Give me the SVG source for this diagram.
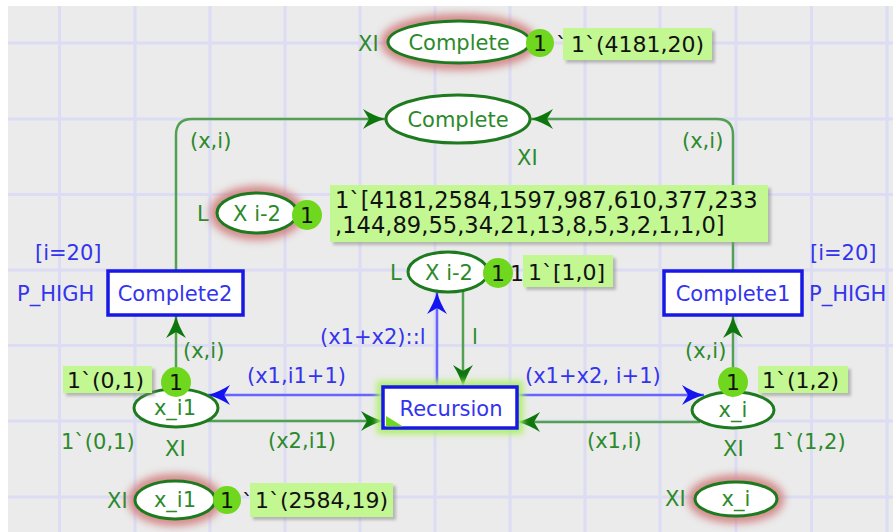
<svg xmlns="http://www.w3.org/2000/svg" width="893" height="532" viewBox="0 0 893 532">
  <style>
    text { font-family: "DejaVu Sans", Verdana, sans-serif; font-size: 21px; }
    .g { fill: #2b8a2b; }
    .b { fill: #3434ee; }
    .k { fill: #111; font-size: 22px; }
    .mid { text-anchor: middle; }
    .place { fill: #fff; stroke: #1e7a1e; stroke-width: 3; }
    .halo { fill: none; stroke: #cf7272; stroke-width: 12; filter: url(#haze); opacity: 0.85; }
    .trans { fill: #fff; stroke: #1818e6; stroke-width: 3.5; }
    .tok { fill: #6fd81e; }
    .box { fill: #c2f792; }
    .shadow { fill: #8a8a8a; opacity: 0.55; filter: url(#soft2); }
    .arcg { fill: none; stroke: #52a052; stroke-width: 2.5; }
    .arcb { fill: none; stroke: #6666ff; stroke-width: 2.5; }
    .grid { stroke: #dcdcf5; stroke-width: 3; }
  </style>
  <defs>
    <filter id="soft" x="-30%" y="-40%" width="160%" height="180%">
      <feGaussianBlur stdDeviation="3"/>
    </filter>
    <filter id="haze" x="-40%" y="-60%" width="180%" height="220%">
      <feGaussianBlur stdDeviation="4"/>
    </filter>
    <filter id="soft2" x="-10%" y="-20%" width="120%" height="140%">
      <feGaussianBlur stdDeviation="1.5"/>
    </filter>
    <marker id="ahg" markerUnits="userSpaceOnUse" viewBox="-24 -11 26 22" refX="0" refY="0" markerWidth="26" markerHeight="22" orient="auto">
      <path d="M0,0 Q-11,-3 -22,-10 L-16,0 L-22,10 Q-11,3 0,0 Z" fill="#0d760d"/>
    </marker>
    <marker id="ahb" markerUnits="userSpaceOnUse" viewBox="-24 -11 26 22" refX="0" refY="0" markerWidth="26" markerHeight="22" orient="auto">
      <path d="M0,0 Q-11,-3 -22,-10 L-16,0 L-22,10 Q-11,3 0,0 Z" fill="#1414f0"/>
    </marker>
  </defs>

  <!-- canvas and grid -->
  <rect x="0" y="0" width="893" height="532" fill="#ffffff"/>
  <rect x="8" y="6" width="885" height="526" fill="#ebebeb"/>
  <g id="grid">
    <line class="grid" x1="59.5" y1="6" x2="59.5" y2="532"/>
    <line class="grid" x1="135" y1="6" x2="135" y2="532"/>
    <line class="grid" x1="210" y1="6" x2="210" y2="532"/>
    <line class="grid" x1="285" y1="6" x2="285" y2="532"/>
    <line class="grid" x1="360" y1="6" x2="360" y2="532"/>
    <line class="grid" x1="435" y1="6" x2="435" y2="532"/>
    <line class="grid" x1="510" y1="6" x2="510" y2="532"/>
    <line class="grid" x1="585" y1="6" x2="585" y2="532"/>
    <line class="grid" x1="660" y1="6" x2="660" y2="532"/>
    <line class="grid" x1="736" y1="6" x2="736" y2="532"/>
    <line class="grid" x1="811.5" y1="6" x2="811.5" y2="532"/>
    <line class="grid" x1="887" y1="6" x2="887" y2="532"/>
    <line class="grid" x1="8" y1="43" x2="893" y2="43"/>
    <line class="grid" x1="8" y1="119" x2="893" y2="119"/>
    <line class="grid" x1="8" y1="194.5" x2="893" y2="194.5"/>
    <line class="grid" x1="8" y1="270" x2="893" y2="270"/>
    <line class="grid" x1="8" y1="345.5" x2="893" y2="345.5"/>
    <line class="grid" x1="8" y1="421" x2="893" y2="421"/>
    <line class="grid" x1="8" y1="497" x2="893" y2="497"/>
  </g>

  <!-- arcs -->
  <g id="connectors">
    <path class="arcg" d="M176,271 L176,135 Q176,119 192,119 L385,119" marker-end="url(#ahg)"/>
    <path class="arcg" d="M733,271 L733,135 Q733,119 717,119 L531,119" marker-end="url(#ahg)"/>
    <path class="arcg" d="M176,390 L176,316" marker-end="url(#ahg)"/>
    <path class="arcg" d="M733,392 L733,316" marker-end="url(#ahg)"/>
    <path class="arcb" d="M383,395 L208,395" marker-end="url(#ahb)"/>
    <path class="arcg" d="M207,421 L383,421" marker-end="url(#ahg)"/>
    <path class="arcb" d="M517,395 L704,395" marker-end="url(#ahb)"/>
    <path class="arcg" d="M700,422 L518,422" marker-end="url(#ahg)"/>
    <path class="arcb" d="M437,387 L437,292" marker-end="url(#ahb)"/>
    <path class="arcg" d="M463,291 L463,387" marker-end="url(#ahg)"/>
    <text class="g" x="190" y="148">(x,i)</text>
    <text class="g" x="682" y="148">(x,i)</text>
    <text class="g" x="183" y="358">(x,i)</text>
    <text class="g" x="685" y="358">(x,i)</text>
    <text class="b" x="247" y="383">(x1,i1+1)</text>
    <text class="g" x="268" y="448">(x2,i1)</text>
    <text class="b" x="525" y="383">(x1+x2, i+1)</text>
    <text class="g" x="587" y="448">(x1,i)</text>
    <text class="b" x="320" y="344">(x1+x2)::l</text>
    <text class="g" x="472" y="344">l</text>
  </g>

  <!-- result monitor: Complete -->
  <g id="complete-result">
    <text class="g" x="358" y="51">XI</text>
    <ellipse class="halo" cx="459" cy="42" rx="72" ry="22"/>
    <ellipse class="place" cx="459" cy="42" rx="71" ry="21"/>
    <text class="g mid" x="459" y="50">Complete</text>
    <circle class="tok" cx="540" cy="43" r="14"/>
    <text class="k mid" x="540" y="51">1</text>
    <text class="k" x="556" y="52">`</text>
    <rect class="shadow" x="566" y="31" width="149" height="32"/>
    <rect class="box" x="563" y="28" width="149" height="32"/>
    <text class="k" x="571" y="52">1`(4181,20)</text>
  </g>

  <!-- place Complete -->
  <g id="complete">
    <ellipse class="place" cx="458" cy="119" rx="72" ry="24"/>
    <text class="g mid" x="458" y="127">Complete</text>
    <text class="g" x="517" y="165">XI</text>
  </g>

  <!-- result monitor: X i-2 -->
  <g id="xi2-result">
    <text class="g" x="197" y="221">L</text>
    <ellipse class="halo" cx="257" cy="213" rx="41" ry="21"/>
    <ellipse class="place" cx="257" cy="213" rx="40" ry="20"/>
    <text class="g mid" x="257" y="221">X i-2</text>
    <circle class="tok" cx="307" cy="215" r="15"/>
    <text class="k mid" x="307" y="223">1</text>
    <rect class="shadow" x="333" y="188" width="438" height="57"/>
    <rect class="box" x="330" y="185" width="438" height="57"/>
    <text class="k" x="335" y="208" style="font-size:22.6px">1`[4181,2584,1597,987,610,377,233</text>
    <text class="k" x="335" y="233" style="font-size:22.6px">,144,89,55,34,21,13,8,5,3,2,1,1,0]</text>
  </g>

  <!-- transition Complete2 -->
  <g id="complete2">
    <text class="b" x="35" y="260">[i=20]</text>
    <text class="b" x="17" y="301">P_HIGH</text>
    <rect class="trans" x="108" y="271" width="135" height="44"/>
    <text class="b mid" x="175" y="301">Complete2</text>
  </g>

  <!-- transition Complete1 -->
  <g id="complete1">
    <text class="b" x="810" y="260">[i=20]</text>
    <text class="b" x="809" y="301">P_HIGH</text>
    <rect class="trans" x="664" y="271" width="138" height="44"/>
    <text class="b mid" x="733" y="301">Complete1</text>
  </g>

  <!-- place X i-2 -->
  <g id="xi2">
    <text class="g" x="390" y="280">L</text>
    <ellipse class="place" cx="448" cy="272" rx="40" ry="20"/>
    <text class="g mid" x="449" y="280">X i-2</text>
    <text class="k" x="510" y="281">1</text>
    <circle class="tok" cx="498" cy="273" r="15"/>
    <text class="k mid" x="498" y="281">1</text>
    <rect class="shadow" x="526" y="258" width="90" height="32"/>
    <rect class="box" x="523" y="255" width="90" height="32"/>
    <text class="k" x="528" y="280">1`[1,0]</text>
  </g>

  <!-- transition Recursion (enabled) -->
  <g id="recursion">
    <rect x="383" y="387" width="134" height="41" fill="none" stroke="#aef06a" stroke-width="12" filter="url(#soft)"/>
    <rect class="trans" x="383" y="387" width="134" height="41"/>
    <path d="M386,416 L386,426.5 L403,426.5 Z" fill="#6fd81e"/>
    <text class="b mid" x="451" y="416">Recursion</text>
  </g>

  <!-- place x_i1 -->
  <g id="x_i1">
    <ellipse class="place" cx="176" cy="408" rx="42" ry="19"/>
    <text class="g mid" x="175" y="415">x_i1</text>
    <circle class="tok" cx="176" cy="382" r="15"/>
    <text class="k mid" x="176" y="390">1</text>
    <rect class="shadow" x="66" y="369" width="89" height="27"/>
    <rect class="box" x="63" y="366" width="89" height="27"/>
    <text class="k" x="67" y="388">1`(0,1)</text>
    <text class="g" x="61" y="449">1`(0,1)</text>
    <text class="g" x="165" y="456">XI</text>
  </g>

  <!-- place x_i -->
  <g id="x_i">
    <ellipse class="place" cx="733" cy="410" rx="41" ry="18"/>
    <text class="g mid" x="733" y="417">x_i</text>
    <circle class="tok" cx="733" cy="382" r="15"/>
    <text class="k mid" x="733" y="390">1</text>
    <rect class="shadow" x="761" y="369" width="90" height="27"/>
    <rect class="box" x="758" y="366" width="90" height="27"/>
    <text class="k" x="762" y="388">1`(1,2)</text>
    <text class="g" x="772" y="449">1`(1,2)</text>
    <text class="g" x="723" y="456">XI</text>
  </g>

  <!-- result monitor: x_i1 -->
  <g id="x_i1-result">
    <text class="g" x="107" y="508">XI</text>
    <ellipse class="halo" cx="175" cy="500" rx="41" ry="20"/>
    <ellipse class="place" cx="175" cy="500" rx="40" ry="19"/>
    <text class="g mid" x="175" y="507">x_i1</text>
    <circle class="tok" cx="227" cy="500" r="14"/>
    <text class="k mid" x="227" y="508">1</text>
    <text class="k" x="242" y="509">`</text>
    <rect class="shadow" x="253" y="486" width="143" height="34"/>
    <rect class="box" x="250" y="483" width="143" height="34"/>
    <text class="k" x="255" y="508">1`(2584,19)</text>
  </g>

  <!-- result monitor: x_i -->
  <g id="x_i-result">
    <text class="g" x="665" y="506">XI</text>
    <ellipse class="halo" cx="736" cy="499" rx="42" ry="18"/>
    <ellipse class="place" cx="736" cy="499" rx="41" ry="17"/>
    <text class="g mid" x="736" y="506">x_i</text>
  </g>
</svg>
